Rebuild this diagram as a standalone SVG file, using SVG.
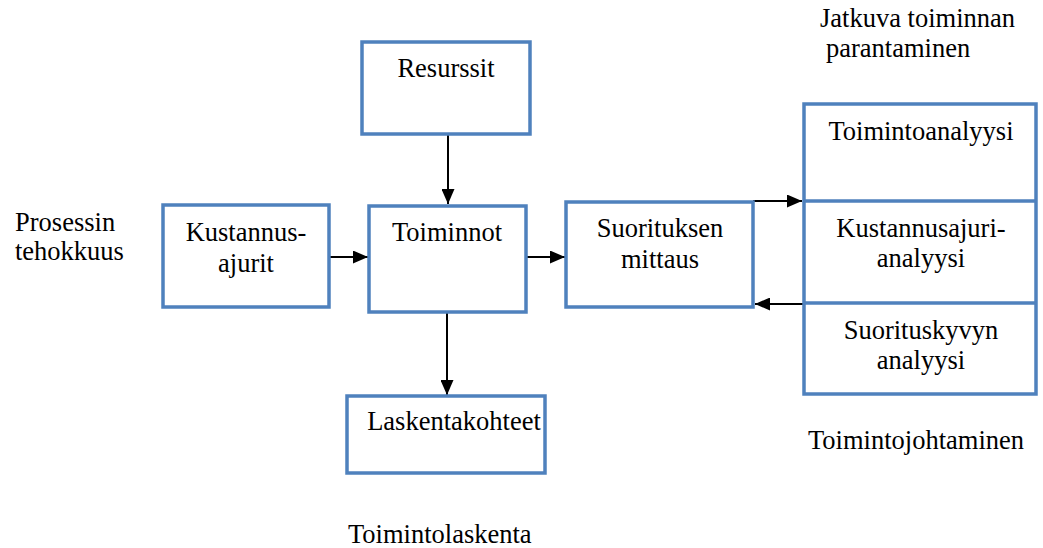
<svg xmlns="http://www.w3.org/2000/svg" width="1043" height="548" viewBox="0 0 1043 548">
  <defs>
    <style>
      .box { fill: #ffffff; stroke: #4f81bd; stroke-width: 3.5; }
      .mid { text-anchor: middle; }
      .conn { stroke: #000000; stroke-width: 2; fill: none; marker-end: url(#arrow); }
    </style>
    <marker id="arrow" viewBox="0 0 15 13" refX="15" refY="6.5" markerWidth="15" markerHeight="13" markerUnits="userSpaceOnUse" orient="auto">
      <path d="M0,0 L15,6.5 L0,13 Z" fill="#000000"/>
    </marker>
  </defs>
  <rect width="1043" height="548" fill="#ffffff"/>

  <g font-family="Liberation Serif, Times New Roman, DejaVu Serif, serif" font-size="26.5" fill="#000000">
    <!-- free-standing captions -->
    <g id="caption-jatkuva">
      <text x="820" y="27">Jatkuva toiminnan</text>
      <text x="826" y="57">parantaminen</text>
    </g>
    <g id="caption-prosessin">
      <text x="15" y="231">Prosessin</text>
      <text x="15" y="260">tehokkuus</text>
    </g>
    <g id="caption-toimintojohtaminen">
      <text x="808" y="449">Toimintojohtaminen</text>
    </g>
    <g id="caption-toimintolaskenta">
      <text x="348" y="543">Toimintolaskenta</text>
    </g>

    <!-- connectors -->
    <g id="connectors">
      <line class="conn" x1="448" y1="134" x2="448" y2="204"/>
      <line class="conn" x1="329" y1="257" x2="368" y2="257"/>
      <line class="conn" x1="526" y1="257" x2="565" y2="257"/>
      <line class="conn" x1="447" y1="313" x2="447" y2="395"/>
      <line class="conn" x1="753" y1="201" x2="802" y2="201"/>
      <line class="conn" x1="805" y1="304" x2="755" y2="304"/>
    </g>

    <!-- nodes -->
    <g id="resurssit">
      <rect class="box" x="362" y="42" width="168" height="92"/>
      <text class="mid" x="446" y="77">Resurssit</text>
    </g>
    <g id="kustannusajurit">
      <rect class="box" x="163" y="205" width="166" height="102"/>
      <text class="mid" x="246" y="241">Kustannus-</text>
      <text class="mid" x="246" y="272">ajurit</text>
    </g>
    <g id="toiminnot">
      <rect class="box" x="369" y="206" width="157" height="106"/>
      <text class="mid" x="447" y="241">Toiminnot</text>
    </g>
    <g id="suorituksen-mittaus">
      <rect class="box" x="566" y="202" width="187" height="105"/>
      <text class="mid" x="660" y="237">Suorituksen</text>
      <text class="mid" x="660" y="268">mittaus</text>
    </g>
    <g id="laskentakohteet">
      <rect class="box" x="347" y="396" width="198" height="77"/>
      <text class="mid" x="454" y="430">Laskentakohteet</text>
    </g>
    <g id="analyysit">
      <rect class="box" x="804" y="104" width="232" height="290"/>
      <line x1="804" y1="201" x2="1036" y2="201" stroke="#4f81bd" stroke-width="3.5"/>
      <line x1="804" y1="303" x2="1036" y2="303" stroke="#4f81bd" stroke-width="3.5"/>
      <text class="mid" x="921" y="140">Toimintoanalyysi</text>
      <text class="mid" x="921" y="237">Kustannusajuri-</text>
      <text class="mid" x="921" y="267">analyysi</text>
      <text class="mid" x="921" y="339">Suorituskyvyn</text>
      <text class="mid" x="921" y="369">analyysi</text>
    </g>
  </g>
</svg>
